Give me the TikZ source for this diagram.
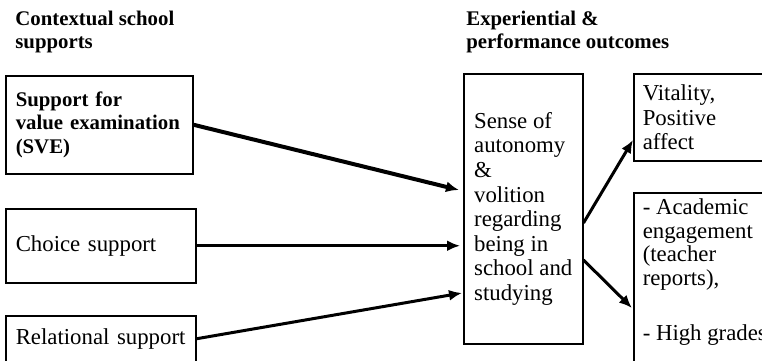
\documentclass[tikz,border=0pt]{standalone}
\usepackage{fontspec}
\setmainfont{Liberation Serif}
\usetikzlibrary{arrows.meta,calc}

\begin{document}
\begin{tikzpicture}[x=0.5pt,y=-0.5pt,
  box/.style={draw,line width=0.75pt,rectangle,inner xsep=5pt,inner ysep=0pt,
    align=left,anchor=north west,font=\fontsize{11.4}{12.3}\selectfont},
  boldbox/.style={box,font=\fontsize{10.4}{11.6}\selectfont\bfseries},
  hdr/.style={anchor=north west,inner sep=0pt,align=left,
    font=\fontsize{10.4}{11.3}\selectfont\bfseries},
  link/.style={line width=1.5pt,-{Latex[length=6.5pt,width=5.5pt]}}]
\useasboundingbox (0,0) rectangle (762,360);
\clip (0,0) rectangle (762,360);

% column headings
\node[hdr] (hdrL) at (15,11) {Contextual school\\supports};
\node[hdr] (hdrR) at (466,11) {Experiential \&\\performance outcomes};

% school supports
\node[boldbox,text width=83.5pt,minimum height=49pt] (sve) at (5,75)
  {Support for\\value examination\\(SVE)};
\node[box,text width=85pt,minimum height=37pt] (choice) at (5,208) {Choice support};
\node[box,text width=85pt,minimum height=23pt] (rel) at (5,315) {Relational support};

% mediator
\node[box,inner xsep=2pt,minimum width=59.5pt,minimum height=135pt] (mid) at (463,73)
  {Sense of\\autonomy\\\&\\volition\\regarding\\being in\\school and\\studying};

% outcomes
\node[box,inner xsep=4.5pt,text width=64pt,minimum height=43.5pt] (tr) at (633,73)
  {Vitality,\\Positive\\affect};
\node[box,inner xsep=4.5pt,inner ysep=3pt] (br) at (633,192)
  {\parbox[c][110pt][t]{64pt}{\fontsize{11.4}{11.8}\selectfont
   - Academic\\engagement\\(teacher\\reports),\\[16pt]- High grades}};

% paths
\draw[link,line width=2pt] (sve.east) -- ($(mid.north west)+(-4,117)$);
\draw[link,shorten >=1.5pt] (choice.east) -- (choice.east -| mid.west);
\draw[link] (rel.east) -- ($(mid.north west)+(-1,220)$);
\draw[link] ($(mid.north east)+(0,150)$) -- ($(tr.north west)+(0,67)$);
\draw[link] ($(mid.north east)+(0,187)$) -- ($(br.north west)+(-1,116)$);
\end{tikzpicture}
\end{document}
